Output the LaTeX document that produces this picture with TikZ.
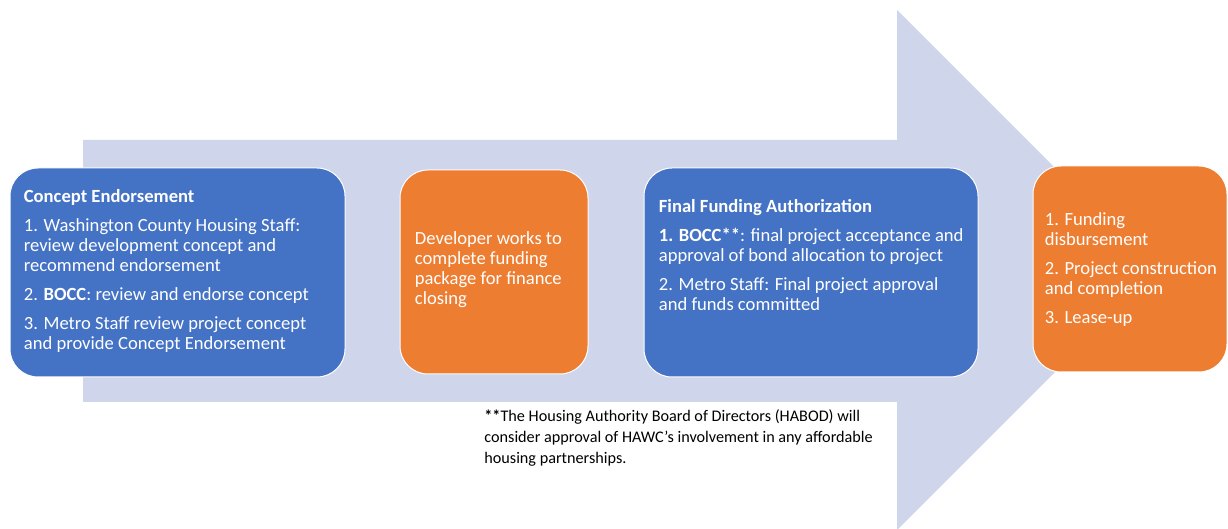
\documentclass[tikz,border=0pt]{standalone}
\usepackage{fontspec}
\setmainfont{Carlito}
\usetikzlibrary{positioning}
\definecolor{stageblue}{HTML}{4472C4}
\definecolor{stageorange}{HTML}{ED7D31}
\definecolor{flowlav}{HTML}{CFD5EA}

\begin{document}
\begin{tikzpicture}[x=0.5pt,y=-0.5pt,font=\fontsize{9.3}{10}\selectfont,stage/.style={rounded corners=14pt,draw=white,line width=.5pt},txt/.style={align=left,inner sep=0pt,anchor=north west,text=white}]
\useasboundingbox (0,0) rectangle (1228,529);
% big process arrow behind the stages
\fill[flowlav] (83,140) -- (897,140) -- (897,10) -- (1157,270) -- (897,530) -- (897,402) -- (83,402) -- cycle;
\node[stage,fill=stageblue,minimum width=167.5pt,minimum height=104.5pt] (concept) at (177.5,272.5) {};
\node[stage,fill=stageorange,minimum width=94pt,minimum height=102pt] (package) at (494,272) {};
\node[stage,fill=stageblue,minimum width=167pt,minimum height=104.5pt] (final) at (811,272.5) {};
\node[stage,fill=stageorange,minimum width=97pt,minimum height=103pt] (closing) at (1130,269) {};
\node[txt] (conceptTxt) at ([shift={(14,22)}]concept.north west) {\textbf{Concept Endorsement}\\[4.5pt]1. Washington County Housing Staff:\\review development concept and\\recommend endorsement\\[4.5pt]2. \textbf{BOCC}: review and endorse concept\\[4.5pt]3. Metro Staff review project concept\\and provide Concept Endorsement};
\node[txt] (packageTxt) at ([shift={(15,62)}]package.north west) {Developer works to\\complete funding\\package for finance\\closing};
\node[txt] (finalTxt) at ([shift={(15,32)}]final.north west) {\textbf{Final Funding Authorization}\\[4.5pt]\textbf{1. BOCC**}: final project acceptance and\\approval of bond allocation to project\\[4.5pt]2. Metro Staff: Final project approval\\and funds committed};
\node[txt] (closingTxt) at ([shift={(12,47)}]closing.north west) {1. Funding\\disbursement\\[4.5pt]2. Project construction\\and completion\\[4.5pt]3. Lease-up};
\node[txt,text=black,font=\fontsize{8.1}{10.5}\selectfont] (note) at (484,409) {\textbf{**}The Housing Authority Board of Directors (HABOD) will\\consider approval of HAWC's involvement in any affordable\\housing partnerships.};
\end{tikzpicture}
\end{document}
